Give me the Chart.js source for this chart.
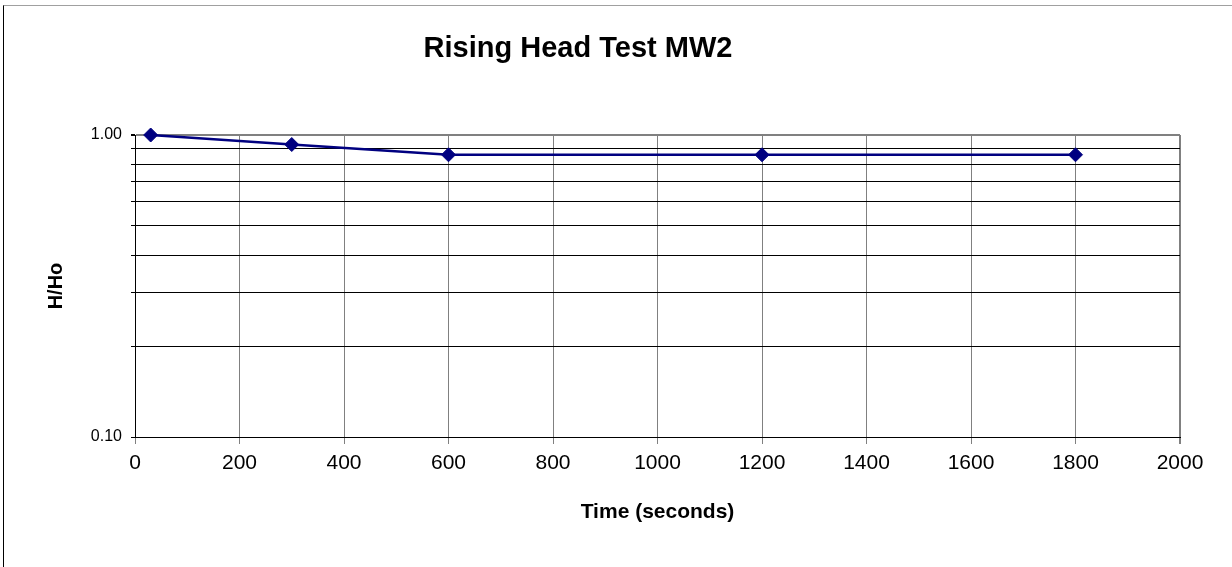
<!DOCTYPE html>
<html>
<head>
<meta charset="utf-8">
<script src="https://cdn.jsdelivr.net/npm/chart.js@4/dist/chart.umd.min.js"></script>
<style>
  html, body { margin: 0; padding: 0; background: #fff; }
  #wrap { position: relative; width: 1232px; height: 567px; }
  #frame { position: absolute; left: 3px; top: 5px; right: 0; bottom: 0;
           border-left: 1px solid #000; border-top: 1px solid #a0a0a0; pointer-events: none; }
</style>
</head>
<body>
<div id="wrap">
  <canvas id="headChart" width="1232" height="567"></canvas>
  <div id="frame"></div>
</div>
<script>
const chartTitle = 'Rising Head Test MW2';
const xTitle = 'Time (seconds)';
const yTitle = 'H/Ho';

// time (s) and normalised head
const timeSec = [30, 300, 600, 1200, 1800];
const headRatio = [1.00, 0.93, 0.86, 0.86, 0.86];

// log axis grid lines, only the decades get a label
const yGridValues = [0.1, 0.2, 0.3, 0.4, 0.5, 0.6, 0.7, 0.8, 0.9, 1.0];
const yLabelled = [0.1, 1.0];

const FONT = '"Liberation Sans", Arial, sans-serif';

const titlePlugin = {
    id: 'topTitle',
    afterDraw(chart) {
        const ctx = chart.ctx;
        ctx.save();
        ctx.font = 'bold 29px ' + FONT;
        ctx.fillStyle = '#000';
        ctx.textAlign = 'center';
        ctx.textBaseline = 'middle';
        ctx.fillText(chartTitle, 578, 49);
        ctx.restore();
    }
};

const ctx = document.getElementById('headChart').getContext('2d');
new Chart(ctx, {
    type: 'scatter',
    data: {
        datasets: [{
            data: timeSec.map((t, i) => ({ x: t, y: headRatio[i] })),
            showLine: true,
            clip: false,
            borderColor: '#000080',
            backgroundColor: '#000080',
            borderWidth: 2.5,
            pointStyle: 'rectRot',
            pointRadius: 7,
            pointHoverRadius: 7,
            pointBorderWidth: 1,
            tension: 0
        }]
    },
    options: {
        responsive: false,
        animation: false,
        layout: { padding: { top: 135, right: 52, left: 0, bottom: 0 } },
        plugins: {
            legend: { display: false },
            tooltip: { enabled: false },
            title: { display: false }
        },
        scales: {
            x: {
                type: 'linear',
                min: 0,
                max: 2000,
                afterFit(scale) { scale.height = 130; },
                ticks: {
                    stepSize: 200,
                    padding: 7,
                    color: '#000',
                    font: { family: FONT, size: 21 },
                    maxRotation: 0,
                    callback: v => String(v)
                },
                grid: {
                    color: '#808080',
                    lineWidth: c => (c.tick && c.tick.value === 2000) ? 2 : 1,
                    tickLength: 7,
                    tickColor: '#808080'
                },
                border: { color: '#000', width: 1 },
                title: {
                    display: true,
                    text: xTitle,
                    color: '#000',
                    font: { family: FONT, size: 21, weight: 'bold' },
                    padding: { top: 0, bottom: 42 }
                }
            },
            y: {
                type: 'logarithmic',
                min: 0.1,
                max: 1.0,
                afterFit(scale) { scale.width = 135; },
                afterBuildTicks(scale) {
                    scale.ticks = yGridValues.map(v => ({ value: v }));
                },
                ticks: {
                    autoSkip: false,
                    padding: 9,
                    color: '#000',
                    font: { family: FONT, size: 16 },
                    callback: v => yLabelled.some(l => Math.abs(l - v) < 1e-9) ? Number(v).toFixed(2) : ''
                },
                grid: {
                    color: c => (c.tick && Math.abs(c.tick.value - 1) < 1e-9) ? '#808080' : '#000',
                    lineWidth: c => (c.tick && Math.abs(c.tick.value - 1) < 1e-9) ? 2 : 1,
                    tickLength: 4,
                    tickColor: '#000'
                },
                border: { color: '#000', width: 1 },
                title: {
                    display: true,
                    text: yTitle,
                    color: '#000',
                    font: { family: FONT, size: 20, weight: 'bold' },
                    padding: { top: 44, bottom: 0 }
                }
            }
        }
    },
    plugins: [titlePlugin]
});
</script>
</body>
</html>
